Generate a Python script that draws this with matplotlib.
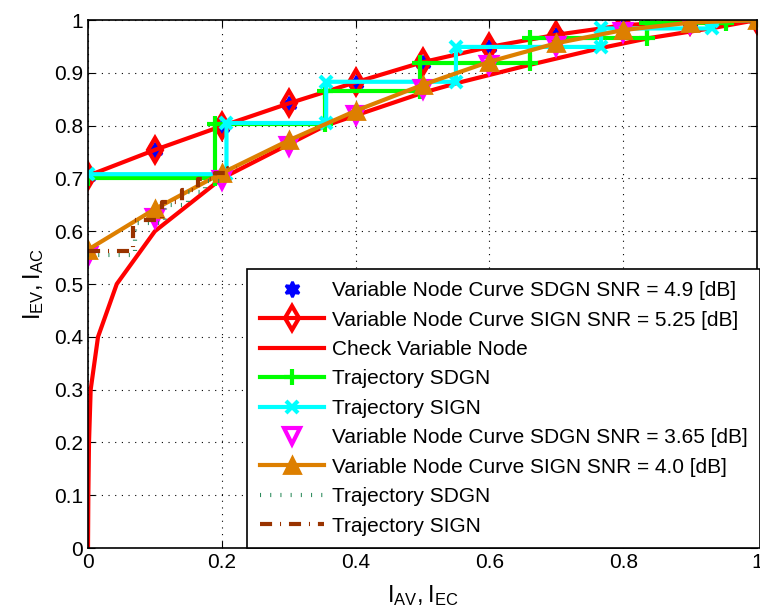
import matplotlib
matplotlib.use("Agg")
import matplotlib.pyplot as plt

plt.rcParams['font.family'] = ['Liberation Sans', 'DejaVu Sans']
plt.rcParams['mathtext.fontset'] = 'custom'
plt.rcParams['mathtext.rm'] = 'Liberation Sans'

# variable node curves (sampled every 0.1)
vn_x = [0.0, 0.1, 0.2, 0.3, 0.4, 0.5, 0.6, 0.7, 0.8, 0.9, 1.0]
vn_sdgn_49 = [0.705, 0.753, 0.798, 0.841, 0.881, 0.919, 0.948, 0.971, 0.989, 0.997, 1.0]
vn_sign_525 = [0.705, 0.754, 0.799, 0.842, 0.882, 0.920, 0.949, 0.972, 0.990, 0.998, 1.0]
vn_sdgn_365 = [0.553, 0.625, 0.697, 0.762, 0.820, 0.870, 0.915, 0.951, 0.977, 0.993, 1.0]
vn_sign_40 = [0.565, 0.642, 0.710, 0.772, 0.828, 0.877, 0.921, 0.956, 0.981, 0.995, 1.0]

# check node curve
cn_x = [0.0, 0.0005, 0.0015, 0.004, 0.015, 0.043, 0.1, 0.2, 0.355, 0.5, 0.55, 0.66, 0.767, 0.84, 0.935, 1.0]
cn_y = [0.0, 0.1, 0.2, 0.3, 0.4, 0.5, 0.6, 0.7, 0.80, 0.862, 0.880, 0.915, 0.947, 0.966, 0.985, 1.0]

# trajectories, high SNR
traj_sdgn_x = [0.0, 0.19, 0.19, 0.354, 0.354, 0.496, 0.496, 0.66, 0.66, 0.836, 0.836, 0.954, 0.954, 1.0]
traj_sdgn_y = [0.700, 0.700, 0.803, 0.803, 0.865, 0.865, 0.918, 0.918, 0.965, 0.965, 0.995, 0.995, 1.0, 1.0]
traj_sign_x = [0.0, 0.207, 0.207, 0.356, 0.356, 0.55, 0.55, 0.767, 0.767, 0.933, 0.933, 1.0]
traj_sign_y = [0.708, 0.708, 0.805, 0.805, 0.883, 0.883, 0.949, 0.949, 0.984, 0.984, 0.998, 1.0]

# trajectories, low SNR (stuck near the bottleneck)
traj2_sdgn_x = [0.0, 0.07, 0.07, 0.115, 0.115, 0.15, 0.15, 0.175, 0.175, 0.2, 0.2]
traj2_sdgn_y = [0.555, 0.555, 0.615, 0.615, 0.650, 0.650, 0.675, 0.675, 0.695, 0.695, 0.710]
traj2_sign_x = [0.0, 0.067, 0.067, 0.11, 0.11, 0.14, 0.14, 0.165, 0.165, 0.19, 0.19, 0.21, 0.21, 0.222]
traj2_sign_y = [0.563, 0.563, 0.622, 0.622, 0.655, 0.655, 0.678, 0.678, 0.698, 0.698, 0.710, 0.710, 0.720, 0.720]

x_ticks = [0, 0.2, 0.4, 0.6, 0.8, 1]
x_tick_labels = ['0', '0.2', '0.4', '0.6', '0.8', '1']
y_ticks = [0, 0.1, 0.2, 0.3, 0.4, 0.5, 0.6, 0.7, 0.8, 0.9, 1]
y_tick_labels = ['0', '0.1', '0.2', '0.3', '0.4', '0.5', '0.6', '0.7', '0.8', '0.9', '1']

FONT = 15
LW = 3

fig = plt.figure(figsize=(7.6, 6.13), dpi=100)
ax = fig.add_axes([88 / 760, 65 / 613, 669 / 760, 528 / 613])

ax.plot(vn_x, vn_sdgn_49, linestyle='none', marker=(6, 1, 0), ms=11, mfc='#0000ff',
        mec='#0000ff', mew=2, label='Variable Node Curve SDGN SNR = 4.9 [dB]')
ax.plot(vn_x, vn_sign_525, color='#ff0000', lw=LW, marker='d', ms=12, mfc='none',
        mew=3, label='Variable Node Curve SIGN SNR = 5.25 [dB]')
ax.plot(cn_x, cn_y, color='#ff0000', lw=LW, label='Check Variable Node')
ax.plot(traj_sdgn_x, traj_sdgn_y, color='#00ff00', lw=LW, marker='+', ms=11, mew=3,
        label='Trajectory SDGN')
ax.plot(traj_sign_x, traj_sign_y, color='#00ffff', lw=LW, marker='x', ms=8, mew=3,
        label='Trajectory SIGN')
ax.plot(vn_x, vn_sdgn_365, linestyle='none', marker='v', ms=11, mfc='none',
        mec='#ff00ff', mew=3, label='Variable Node Curve SDGN SNR = 3.65 [dB]')
ax.plot(vn_x, vn_sign_40, color='#dd7f00', lw=LW, marker='^', ms=12, mfc='#dd7f00',
        mew=2, label='Variable Node Curve SIGN SNR = 4.0 [dB]')
ax.plot(traj2_sdgn_x, traj2_sdgn_y, color='#2a8a5a', lw=LW, linestyle=(0, (0.25, 2.2)),
        dash_capstyle='butt', label='Trajectory SDGN')
ax.plot(traj2_sign_x, traj2_sign_y, color='#993300', lw=LW, linestyle=(0, (2.9, 1.9, 0.25, 1.9)),
        dash_capstyle='butt', label='Trajectory SIGN')

ax.set_xlim(0, 1)
ax.set_ylim(0, 1)
ax.set_xticks(x_ticks)
ax.set_xticklabels(x_tick_labels)
ax.set_yticks(y_ticks)
ax.set_yticklabels(y_tick_labels)
ax.tick_params(direction='in', top=True, right=True, labelsize=FONT, length=5, width=0.8)
ax.grid(True, color='k', linestyle=(0, (1, 5)), lw=0.8)
for s in ax.spines.values():
    s.set_linewidth(1.2)

ax.set_xlabel(r'$\mathregular{I_{AV},I_{EC}}$', fontsize=17, labelpad=8)
ax.set_ylabel(r'$\mathregular{I_{EV},I_{AC}}$', fontsize=17, labelpad=6)

leg = ax.legend(loc='lower left', bbox_to_anchor=(0.238, 0.0), fontsize=FONT,
                fancybox=False, framealpha=1, edgecolor='k', borderaxespad=0,
                handlelength=3.1, handletextpad=0.35, labelspacing=0.5, borderpad=0.6)
leg.get_frame().set_linewidth(1.2)

fig.savefig('out.png', dpi=100)
